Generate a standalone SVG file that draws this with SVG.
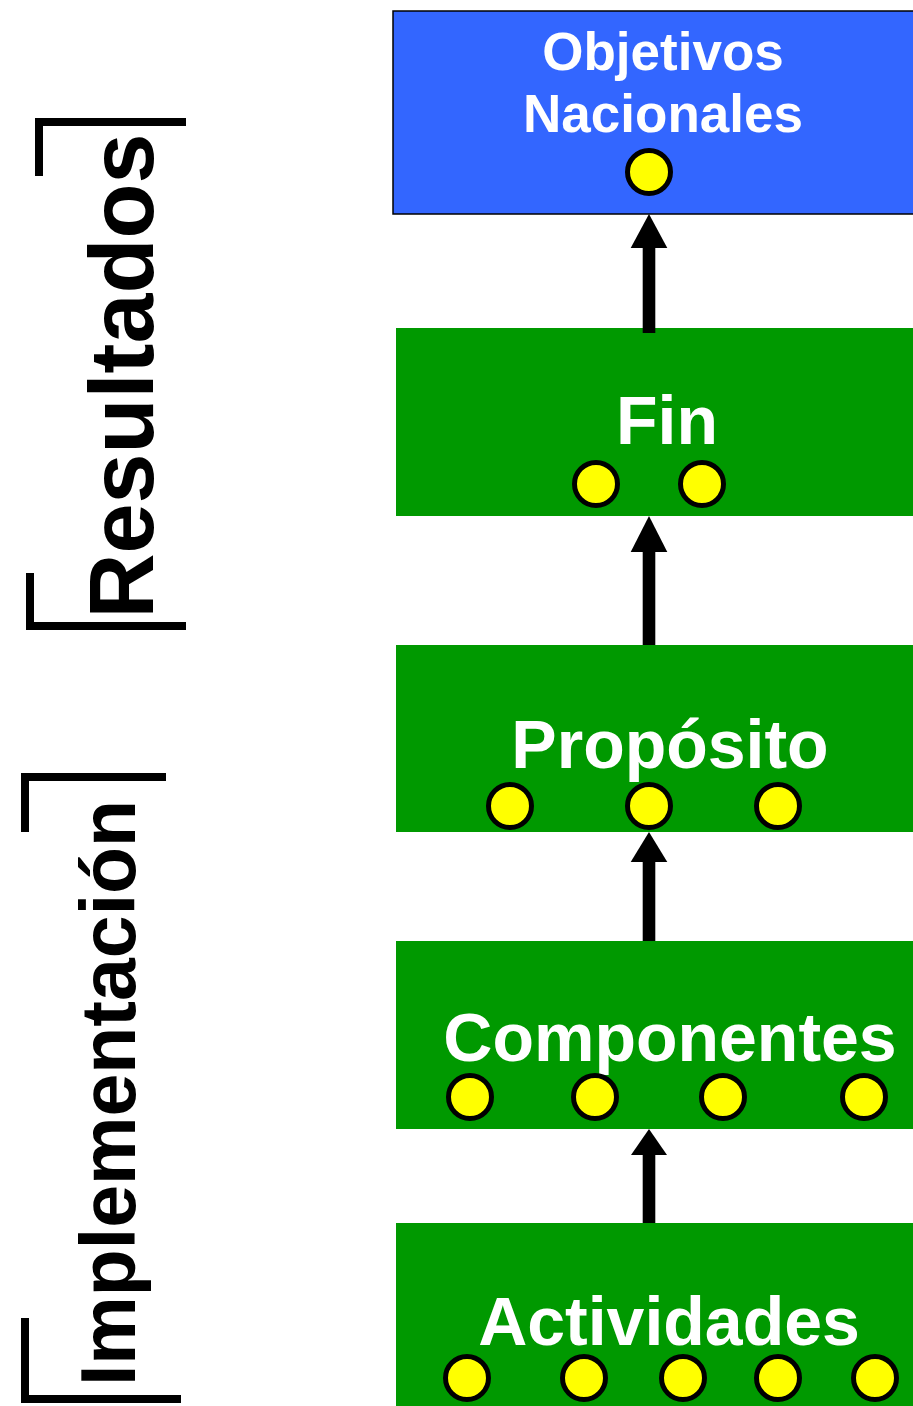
<svg xmlns="http://www.w3.org/2000/svg" width="913" height="1406" viewBox="0 0 913 1406">
<style>
.lbl{font-family:"Liberation Sans",Arial,sans-serif;font-weight:bold;fill:#fff;text-anchor:middle}
.side{font-family:"Liberation Sans",Arial,sans-serif;font-weight:bold;fill:#000;text-anchor:middle}
.dot{fill:#ffff00;stroke:#000;stroke-width:5}
.box{fill:#009900}
.br{fill:none;stroke:#000;stroke-width:8}
</style>
<rect width="913" height="1406" fill="#fff"/>
<g id="side-labels">
<path class="br" d="M39,176 V122 H186"/>
<path class="br" d="M30,573 V626 H186"/>
<text class="side" font-size="90" transform="translate(153,376) rotate(-90)">Resultados</text>
<path class="br" d="M25,832 V777 H166"/>
<path class="br" d="M25,1318 V1399 H181"/>
<text class="side" font-size="77" transform="translate(135,1093) rotate(-90)">Implementación</text>
</g>
<g id="objetivos">
<rect x="393" y="11" width="540" height="203" fill="#3366ff" stroke="#000" stroke-width="1.5"/>
<text class="lbl" x="663" y="70" font-size="53">Objetivos</text>
<text class="lbl" x="663" y="132" font-size="53">Nacionales</text>
<circle class="dot" cx="649" cy="172" r="21.5"/>
</g>
<g id="fin">
<rect class="box" x="396" y="328" width="540" height="188"/>
<text class="lbl" x="667" y="444" font-size="68">Fin</text>
<circle class="dot" cx="596" cy="484" r="21.5"/>
<circle class="dot" cx="702" cy="484" r="21.5"/>
</g>
<g id="proposito">
<rect class="box" x="396" y="645" width="540" height="187"/>
<text class="lbl" x="670" y="768" font-size="68">Propósito</text>
<circle class="dot" cx="510" cy="806" r="21.5"/>
<circle class="dot" cx="649" cy="806" r="21.5"/>
<circle class="dot" cx="778" cy="806" r="21.5"/>
</g>
<g id="componentes">
<rect class="box" x="396" y="941" width="540" height="188"/>
<text class="lbl" x="670" y="1061" font-size="68">Componentes</text>
<circle class="dot" cx="470" cy="1097" r="21.5"/>
<circle class="dot" cx="595" cy="1097" r="21.5"/>
<circle class="dot" cx="723" cy="1097" r="21.5"/>
<circle class="dot" cx="864" cy="1097" r="21.5"/>
</g>
<g id="actividades">
<rect class="box" x="396" y="1223" width="540" height="190"/>
<text class="lbl" x="669" y="1345" font-size="68">Actividades</text>
<circle class="dot" cx="467" cy="1378" r="21.5"/>
<circle class="dot" cx="584" cy="1378" r="21.5"/>
<circle class="dot" cx="683" cy="1378" r="21.5"/>
<circle class="dot" cx="778" cy="1378" r="21.5"/>
<circle class="dot" cx="875" cy="1378" r="21.5"/>
</g>
<g id="connectors" fill="#000">
<rect x="642.7" y="246" width="12.6" height="87"/>
<polygon points="649,214 667.3,248 630.7,248"/>
<rect x="642.7" y="550" width="12.6" height="95"/>
<polygon points="649,516 667.3,552 630.7,552"/>
<rect x="642.7" y="860" width="12.6" height="81"/>
<polygon points="649,832 667.3,862 630.7,862"/>
<rect x="642.7" y="1153" width="12.6" height="70"/>
<polygon points="649,1129 667,1155 631,1155"/>
</g>
</svg>
